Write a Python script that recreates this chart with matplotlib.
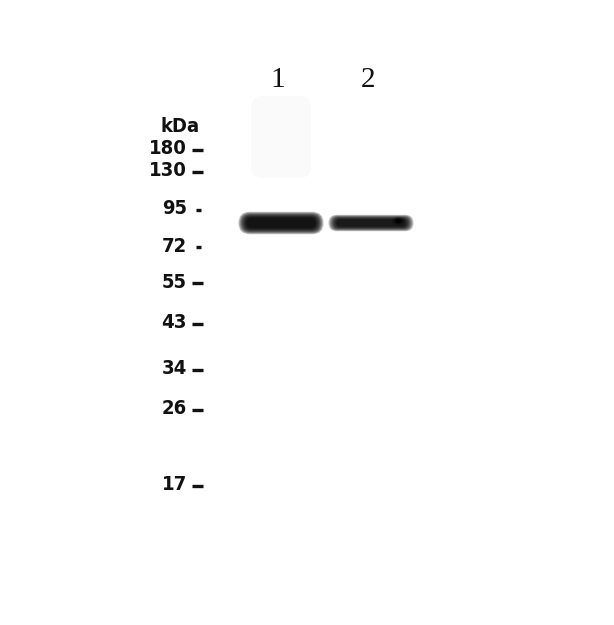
import matplotlib
matplotlib.use("Agg")
import matplotlib.pyplot as plt
from matplotlib import font_manager
from matplotlib.patches import FancyBboxPatch, Ellipse

# ---- data ----
lane_labels = ["1", "2"]
lane_centers = [280, 370]          # lane x centre (px)
band_kda = [85, 85]                 # detected band size
band_intensity = [1.0, 0.9]
band_thickness = [15, 11]
band_widths = [76, 76]

marker_labels = ["180", "130", "95", "72", "55", "43", "34", "26", "17"]
marker_pos = [149, 171, 209, 246, 282, 323, 369, 409, 485]   # migration (px from top)
band_pos = [222, 222]

# ---- fonts ----
names = {f.name for f in font_manager.fontManager.ttflist}
cond = [f for f in font_manager.fontManager.ttflist
        if f.name == "DejaVu Sans" and "ondensed" in f.fname]
if "Liberation Sans Narrow" in names:
    mfont, mstretch, msize = "Liberation Sans Narrow", "normal", 15
elif cond:
    mfont, mstretch, msize = "DejaVu Sans", "condensed", 14.5
else:
    mfont, mstretch, msize = "DejaVu Sans", "normal", 12.5
sfont = "Liberation Serif" if "Liberation Serif" in names else "DejaVu Serif"

fig = plt.figure(figsize=(6.14, 6.25), dpi=100)
ax = fig.add_axes([0, 0, 1, 1])
ax.set_xlim(0, 614)
ax.set_ylim(625, 0)
ax.axis("off")

# faint smear above lane 1
ax.add_patch(FancyBboxPatch((253, 98), 56, 78, boxstyle="round,pad=2,rounding_size=12",
                            fc="#fafafa", ec="none", zorder=0))

# lane labels
for lab, x in zip(lane_labels, lane_centers):
    ax.text(x - 2, 80, lab, ha="center", va="center", fontsize=21,
            family=sfont, color="#111111")

# kDa marker
ax.text(180, 126, "kDa", ha="center", va="center", fontsize=msize, fontweight="bold",
        family=mfont, fontstretch=mstretch, color="#111111")
short = {"95", "72"}
for lab, y in zip(marker_labels, marker_pos):
    ax.text(187, y, lab, ha="right", va="center", fontsize=msize, fontweight="bold",
            family=mfont, fontstretch=mstretch, color="#111111")
    x0 = 196 if lab in short else 192
    x1 = 201 if lab in short else 203
    ax.plot([x0, x1], [y + 1, y + 1], color="#111111", lw=2.4, solid_capstyle="butt")

# bands: layered soft patches
def draw_band(cx, cy, w, h, inten, blob=False):
    layers = 10
    for i in range(layers):
        f = i / (layers - 1)
        ww = w * (1.12 - 0.22 * f)
        hh = h * (1.5 - 0.85 * f)
        ax.add_patch(FancyBboxPatch((cx - ww / 2, cy - hh / 2 + 1), ww, hh,
                                    boxstyle=f"round,pad=0,rounding_size={hh/2:.1f}",
                                    fc="black", ec="none", alpha=0.22 * inten, zorder=2))
    if blob:
        for r, a in [(9, 0.25), (6, 0.5), (4, 0.8)]:
            ax.add_patch(Ellipse((cx + w * 0.36, cy - 1), r * 1.4, r, fc="black",
                                 ec="none", alpha=a, zorder=3))

for i, (cx, cy) in enumerate(zip(lane_centers, band_pos)):
    draw_band(cx + 1, cy, band_widths[i], band_thickness[i], band_intensity[i], blob=(i == 1))

fig.savefig("out.png", dpi=100, facecolor="white")
